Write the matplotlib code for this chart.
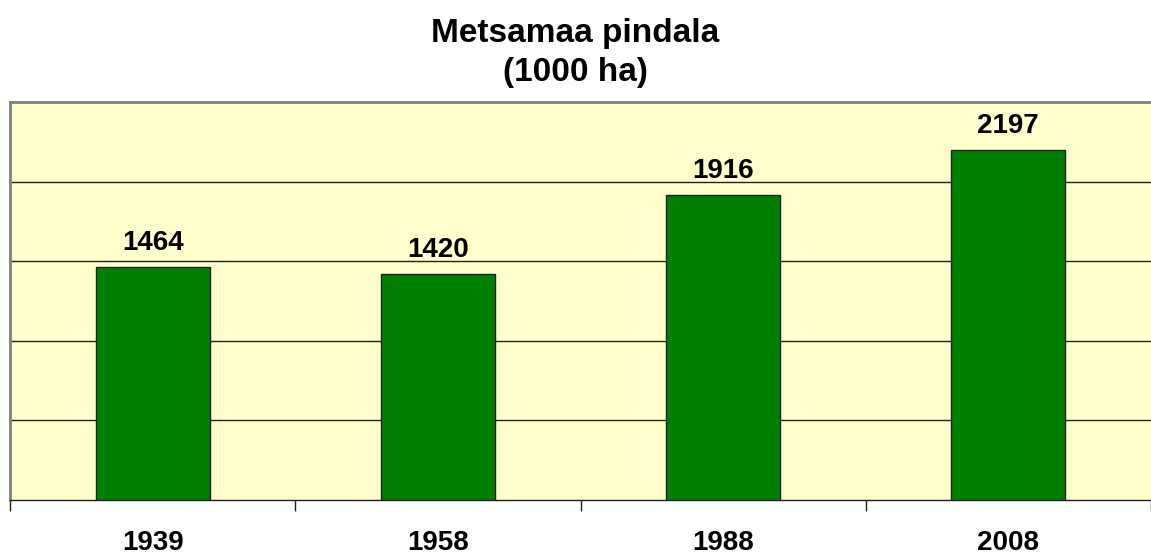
import matplotlib
matplotlib.use("Agg")
import matplotlib.pyplot as plt

# Metsamaa pindala (1000 ha)
years = ["1939", "1958", "1988", "2008"]
area = [1464, 1420, 1916, 2197]

plt.rcParams['font.family'] = ['Liberation Sans', 'DejaVu Sans']

fig = plt.figure(figsize=(11.51, 5.58), dpi=100)
ax = fig.add_axes([10 / 1151, 1 - 500 / 558, 1141 / 1151, 398 / 558])
ax.set_facecolor("#FFFFCC")

x = range(len(years))
bars = ax.bar(x, area, width=0.4, color="#008000", edgecolor="#202020",
              linewidth=1.0, zorder=3)

ax.set_xlim(-0.5, 3.5)
ax.set_ylim(0, 2500)
ax.set_yticks([500, 1000, 1500, 2000])
ax.yaxis.grid(True, color="#202020", linewidth=1.0, zorder=1)
ax.tick_params(axis="y", length=0, labelleft=False)

# category boundary ticks below axis
ax.set_xticks([-0.5, 0.5, 1.5, 2.5, 3.5])
ax.set_xticklabels([])
ax.tick_params(axis="x", direction="out", length=8, width=1, color="#202020")
for i, y in enumerate(years):
    ax.text(i, -0.075, y, transform=ax.get_xaxis_transform(), ha="center",
            va="top", fontsize=20, fontweight="bold")

for b, v in zip(bars, area):
    ax.annotate(str(v), (b.get_x() + b.get_width() / 2, v), xytext=(0, 8),
                textcoords="offset points", ha="center", va="bottom",
                fontsize=20, fontweight="bold")

for s in ["top", "left"]:
    ax.spines[s].set_color("#808080")
    ax.spines[s].set_linewidth(2)
ax.spines["right"].set_visible(False)
ax.spines["bottom"].set_color("#202020")
ax.spines["bottom"].set_linewidth(1)

fig.text(575 / 1151, 1 - 53 / 558, "Metsamaa pindala\n(1000 ha)", ha="center",
         va="center", fontsize=24, fontweight="bold", linespacing=1.35)

fig.savefig("out.png", dpi=100)
